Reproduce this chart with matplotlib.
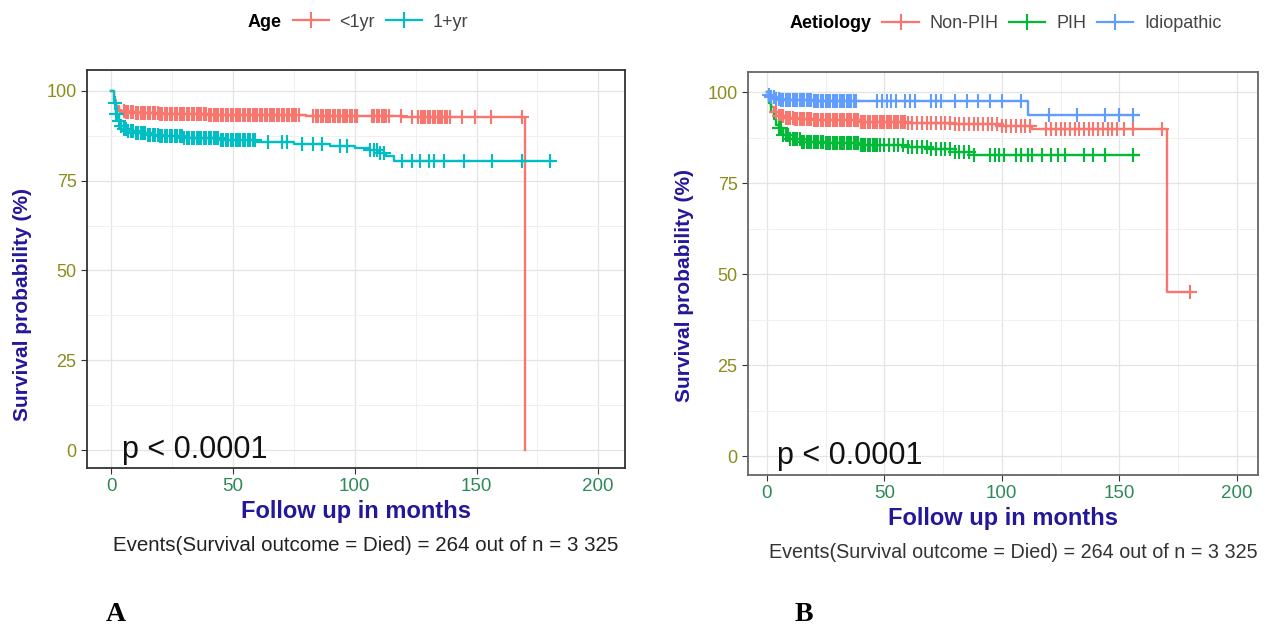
"""Kaplan-Meier curves by age group (A) and aetiology (B), redrawn from the figure."""
import numpy as np
import matplotlib
matplotlib.use("Agg")
import matplotlib.pyplot as plt
from matplotlib.lines import Line2D

plt.rcParams["font.family"] = ["Liberation Sans", "DejaVu Sans"]

# ---------------- data ----------------
# panel A : age
a_lt1_t = [0, 1, 2, 3, 4, 6, 10, 20, 40, 60, 80, 100, 120, 140, 169.5, 170]
a_lt1_s = [100, 97.5, 95.8, 94.8, 94.3, 94.0, 93.8, 93.6, 93.4, 93.2, 93.0, 92.9, 92.8, 92.7, 92.7, 0]
a_lt1_cens = [5, 6, 7, 8, 9, 10, 11, 12, 13, 14, 15, 16, 17, 18, 19, 20, 21, 22, 23, 24, 25, 26, 27,
              28, 29, 30, 31, 32, 33, 34, 35, 36, 37, 38, 39, 40, 41, 42, 43, 44, 45, 46, 47, 48, 49,
              50, 51, 52, 53, 54, 55, 56, 57, 58, 59, 60, 61, 62, 63, 64, 65, 66, 67, 68, 69, 70, 71,
              72, 73, 74, 75, 76, 77, 83, 84, 85, 86, 87, 88, 89, 90, 91, 92, 93, 94, 95, 96, 97, 98,
              99, 100, 101, 107, 108, 109, 110, 111, 112, 113, 114, 119, 123.5, 126, 127, 128, 129,
              130, 131, 132, 133, 134, 135, 136, 137, 138, 139, 144, 149.5, 156, 168.5]

a_ge1_t = [0, 1, 2, 3, 4, 5, 7, 10, 15, 20, 30, 45, 60, 75, 90, 100, 106, 110, 113, 116, 181]
a_ge1_s = [100, 96.5, 93.5, 91.5, 90.3, 89.5, 88.8, 88.3, 87.8, 87.3, 86.8, 86.3, 85.7, 85.1, 84.6,
           84.2, 83.5, 82.8, 81.8, 80.6, 80.6]
a_ge1_cens = [1.5, 2, 2.5, 3, 4, 5, 6, 7, 8, 9, 10, 11, 12, 13, 14, 15, 16, 17, 18, 19, 20, 21, 22, 23,
              24, 25, 26, 27, 28, 29, 30, 31, 32, 33, 34, 35, 36, 37, 38, 39, 40, 41, 42, 43, 44, 45,
              46, 47, 48, 49, 50, 51, 52, 53, 54, 55, 56, 57, 58, 59, 64.5, 70, 72, 78.4, 83, 86.6,
              94, 96.8, 106.4, 108, 109, 110.5, 111.8, 119.4, 123.5, 126.9, 130.3, 132.4, 136.5,
              144.7, 156.3, 168.7, 180.3]

# panel B : aetiology
b_non_t = [0, 1, 2, 3, 5, 8, 12, 20, 40, 60, 80, 100, 113, 170.5, 180.5]
b_non_s = [100, 97.5, 95.8, 94.5, 93.5, 92.8, 92.5, 92.2, 91.9, 91.5, 91.1, 90.8, 89.8, 45, 45]
b_non_cens = [4, 5, 6, 7, 8, 9, 10, 11, 12, 13, 14, 15, 16, 17, 18, 19, 20, 21, 22, 23, 24, 25, 26, 27,
              28, 29, 30, 31, 32, 33, 34, 35, 36, 37, 38, 39, 40, 41, 42, 43, 44, 45, 46, 47, 48, 49,
              50, 51, 52, 53, 54, 55, 56, 57, 58, 59, 60, 62, 64, 66, 68, 70, 72, 74, 76, 78, 80, 82,
              84, 86, 88, 90, 92, 94, 96, 98, 100, 102, 104, 106, 108, 110, 112, 119, 121, 123, 125,
              127, 129, 131, 133, 135, 137, 139, 141, 143, 145, 147, 149, 152, 156, 168, 180]

b_pih_t = [0, 1, 2, 3, 4, 5, 7, 10, 15, 25, 40, 60, 70, 80, 88, 158]
b_pih_s = [100, 97, 94.5, 92.5, 91, 90, 88.2, 87, 86.3, 85.9, 85.5, 85.0, 84.3, 83.5, 82.7, 82.7]
b_pih_cens = [5, 6, 7, 8, 9, 10, 11, 12, 13, 14, 15, 16, 17, 18, 19, 20, 21, 22, 23, 24, 25, 26, 27,
              28, 29, 30, 31, 32, 33, 34, 35, 36, 37, 38, 39, 40, 41, 42, 43, 44, 45, 46, 47, 48, 50,
              52, 54, 56, 58, 60, 62, 64, 66, 68, 70, 72, 74, 76, 78, 80, 82, 84, 86, 88, 95, 97, 99,
              101, 106, 108, 111, 113, 117, 121, 124, 127, 135, 139, 144, 156]

b_idio_t = [0, 1, 2, 4, 6, 20, 60, 110, 111, 158]
b_idio_s = [100, 99.3, 98.6, 98.1, 97.8, 97.6, 97.5, 97.5, 93.8, 93.8]
b_idio_cens = [1, 2, 3, 4, 5, 6, 7, 8, 9, 10, 11, 12, 13, 14, 15, 16, 17, 18, 19, 20, 21, 22, 23, 24,
               25, 26, 27, 28, 29, 30, 31, 32, 33, 34, 35, 36, 37, 38, 47, 49, 51, 53, 55, 59, 61, 63,
               70, 72, 74, 80, 85, 90, 95, 100, 108, 120, 132, 144, 150, 156]

RED, TEAL, GREEN, BLUE = "#F8766D", "#00BFC4", "#00BA38", "#619CFF"
LAB_C = "#24179a"
YTICK_C = "#8c8c1a"
XTICK_C = "#2e8b57"


def km(ax, t, s, cens, color):
    t = np.asarray(t, float); s = np.asarray(s, float); c = np.asarray(cens, float)
    ax.step(t, s, where="post", color=color, lw=1.7, zorder=3)
    idx = np.searchsorted(t, c, side="right") - 1
    ax.plot(c, s[idx], ls="none", marker="+", ms=10.5, mew=1.5, color=color, zorder=4)


def style(ax, xlim, ylim, frame_c, ylab_xy):
    ax.set_xlim(*xlim); ax.set_ylim(*ylim)
    ax.set_xticks([0, 50, 100, 150, 200]); ax.set_yticks([0, 25, 50, 75, 100])
    ax.set_xticks([25, 75, 125, 175], minor=True)
    ax.set_yticks([12.5, 37.5, 62.5, 87.5], minor=True)
    ax.grid(which="major", color="#e4e4e4", lw=0.9)
    ax.grid(which="minor", color="#f0f0f0", lw=0.7)
    ax.set_axisbelow(True)
    ax.tick_params(which="minor", length=0)
    ax.tick_params(axis="y", labelcolor=YTICK_C, labelsize=13, length=4, color="#333333")
    ax.tick_params(axis="x", labelcolor=XTICK_C, labelsize=13.5, length=4, color="#333333")
    for sp in ax.spines.values():
        sp.set_color(frame_c); sp.set_linewidth(1.3)
    ax.set_xlabel("Follow up in months", color=LAB_C, fontsize=17, fontweight="bold", labelpad=3)
    ax.set_ylabel("Survival probability (%)", color=LAB_C, fontsize=15, fontweight="bold")
    ax.yaxis.set_label_coords(*ylab_xy)
    ax.text(4.5, 0, "p < 0.0001", fontsize=22, va="center", ha="left", color="#111111")


def legend(ax, title, labels, colors, anchor):
    blank = Line2D([], [], ls="none")
    hs = [blank] + [Line2D([], [], color=c, lw=1.6, marker="+", ms=11, mew=1.5) for c in colors]
    leg = ax.legend(hs, [title] + labels, loc="center", bbox_to_anchor=anchor, ncol=len(hs),
                    frameon=False, fontsize=13, handlelength=2.0, handletextpad=0.6,
                    columnspacing=0.6, borderaxespad=0)
    leg.get_texts()[0].set_fontweight("bold")
    for tx in leg.get_texts()[1:]:
        tx.set_color("#444444")
    return leg


fig = plt.figure(figsize=(12.74, 6.29), dpi=100)

# ---------- A ----------
axA = fig.add_axes([0.0683, 0.2560, 0.4223, 0.6327])
km(axA, a_lt1_t, a_lt1_s, a_lt1_cens, RED)
km(axA, a_ge1_t, a_ge1_s, a_ge1_cens, TEAL)
style(axA, (-10, 211), (-5, 105.8), "#333333", (-0.102, 0.41))
legend(axA, "Age", ["<1yr", "1+yr"], [RED, TEAL], (0.46, 1.12))
fig.text(0.287, 0.132, "Events(Survival outcome = Died) = 264 out of n = 3 325",
         ha="center", va="center", fontsize=14.8, color="#222222")
fig.text(0.083, 0.012, "A", family=["Liberation Serif"], fontweight="bold", fontsize=20)

# ---------- B ----------
axB = fig.add_axes([0.5871, 0.2448, 0.4003, 0.6407])
km(axB, b_non_t, b_non_s, b_non_cens, RED)
km(axB, b_pih_t, b_pih_s, b_pih_cens, GREEN)
km(axB, b_idio_t, b_idio_s, b_idio_cens, BLUE)
style(axB, (-8, 209), (-5.2, 105.5), "#666666", (-0.106, 0.47))
legend(axB, "Aetiology", ["Non-PIH", "PIH", "Idiopathic"], [RED, GREEN, BLUE], (0.459, 1.12))
fig.text(0.795, 0.121, "Events(Survival outcome = Died) = 264 out of n = 3 325",
         ha="center", va="center", fontsize=14.2, color="#333333")
fig.text(0.624, 0.012, "B", family=["Liberation Serif"], fontweight="bold", fontsize=20)

fig.savefig("out.png", dpi=100)
